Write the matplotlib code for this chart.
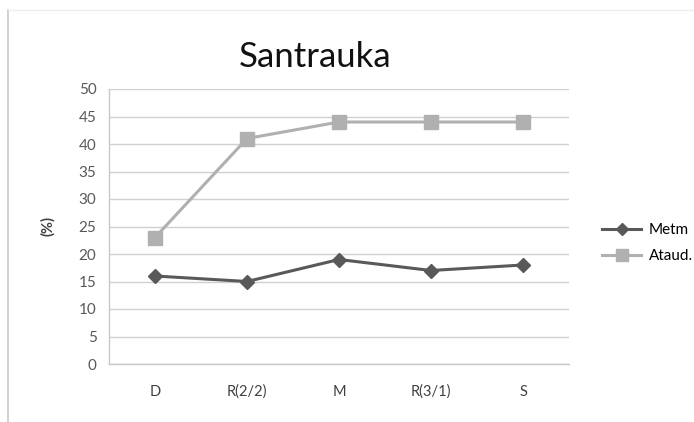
import matplotlib.pyplot as plt
from matplotlib.lines import Line2D

plt.rcParams['font.family'] = ['Lato', 'DejaVu Sans']

# Data
categories = ["D", "R(2/2)", "M", "R(3/1)", "S"]
metm = [16, 15, 19, 17, 18]
ataud = [23, 41, 44, 44, 44]
yticks = list(range(0, 51, 5))

fig = plt.figure(figsize=(6.94, 4.22), dpi=100)
ax = fig.add_axes([109 / 694, 1 - 364 / 422, 460 / 694, 275 / 422])

x = range(len(categories))
ax.plot(x, ataud, color="#b0b0b0", lw=2.2, marker="s", markersize=10, label="Ataud.")
ax.plot(x, metm, color="#595959", lw=2.2, marker="D", markersize=7, label="Metm")

ax.set_xlim(-0.5, len(categories) - 0.5)
ax.set_ylim(0, 50)
ax.set_yticks(yticks)
ax.set_xticks(list(x))
ax.set_xticklabels(categories, fontsize=10.5, color="#404040")
ax.tick_params(axis="y", labelsize=11, labelcolor="#595959", length=0, pad=9)
ax.tick_params(axis="x", length=0, pad=15)
ax.grid(axis="y", color="#d0d0d0", lw=1)
ax.set_axisbelow(True)
for side in ["top", "right"]:
    ax.spines[side].set_visible(False)
for side in ["left", "bottom"]:
    ax.spines[side].set_color("#c8c8c8")
    ax.spines[side].set_linewidth(1)

ax.set_ylabel("(%)", fontsize=10.5, fontweight="bold", color="#404040", labelpad=17)

fig.text(315 / 694, 1 - 57 / 422, "Santrauka", ha="center", va="center", fontsize=25, color="#111111")

# Legend
handles = [
    Line2D([], [], color="#595959", lw=2.2, marker="D", markersize=6),
    Line2D([], [], color="#b0b0b0", lw=2.2, marker="s", markersize=8),
]
fig.legend(handles, ["Metm", "Ataud."], loc="center left", bbox_to_anchor=(588 / 694, 1 - 243 / 422),
           frameon=False, fontsize=11, handlelength=2.6, labelspacing=0.8, handletextpad=0.5)

# Outer frame lines (left and top)
fig.add_artist(Line2D([8 / 694, 8 / 694], [0, 1 - 10 / 422], color="#c8c8c8", lw=1.2))
fig.add_artist(Line2D([8 / 694, 1], [1 - 10 / 422, 1 - 10 / 422], color="#eeeeee", lw=1))

fig.savefig("out.png", dpi=100)
